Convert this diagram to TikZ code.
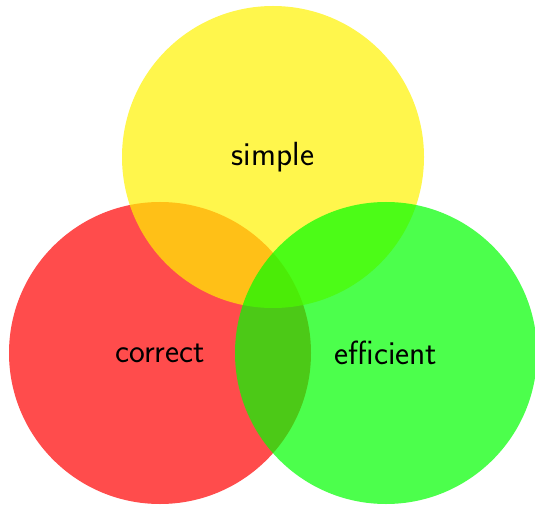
\documentclass[tikz,border=0pt]{standalone}
\usepackage{fontspec}
\begin{document}
\begin{tikzpicture}[x=1pt,y=1pt,
  venn/.style={circle,minimum size=302pt,inner sep=0pt,fill opacity=0.7},
  lbl/.style={font=\sffamily\fontsize{33.5}{40}\selectfont},
]
\useasboundingbox (0,0) rectangle (535,504);
\begin{scope}
\clip (0,0) rectangle (535,504);
\node[venn,fill=red]    (correct)   at (160,151) {};
\node[venn,fill=yellow] (simple)    at (273,347) {};
\node[venn,fill=green]  (efficient) at (386,151) {};
\end{scope}
\node[lbl] (tc) at (correct)   {correct};
\node[lbl] (ts) at (simple)    {simple};
\node[lbl] (te) at (efficient) {efficient};
\end{tikzpicture}
\end{document}
